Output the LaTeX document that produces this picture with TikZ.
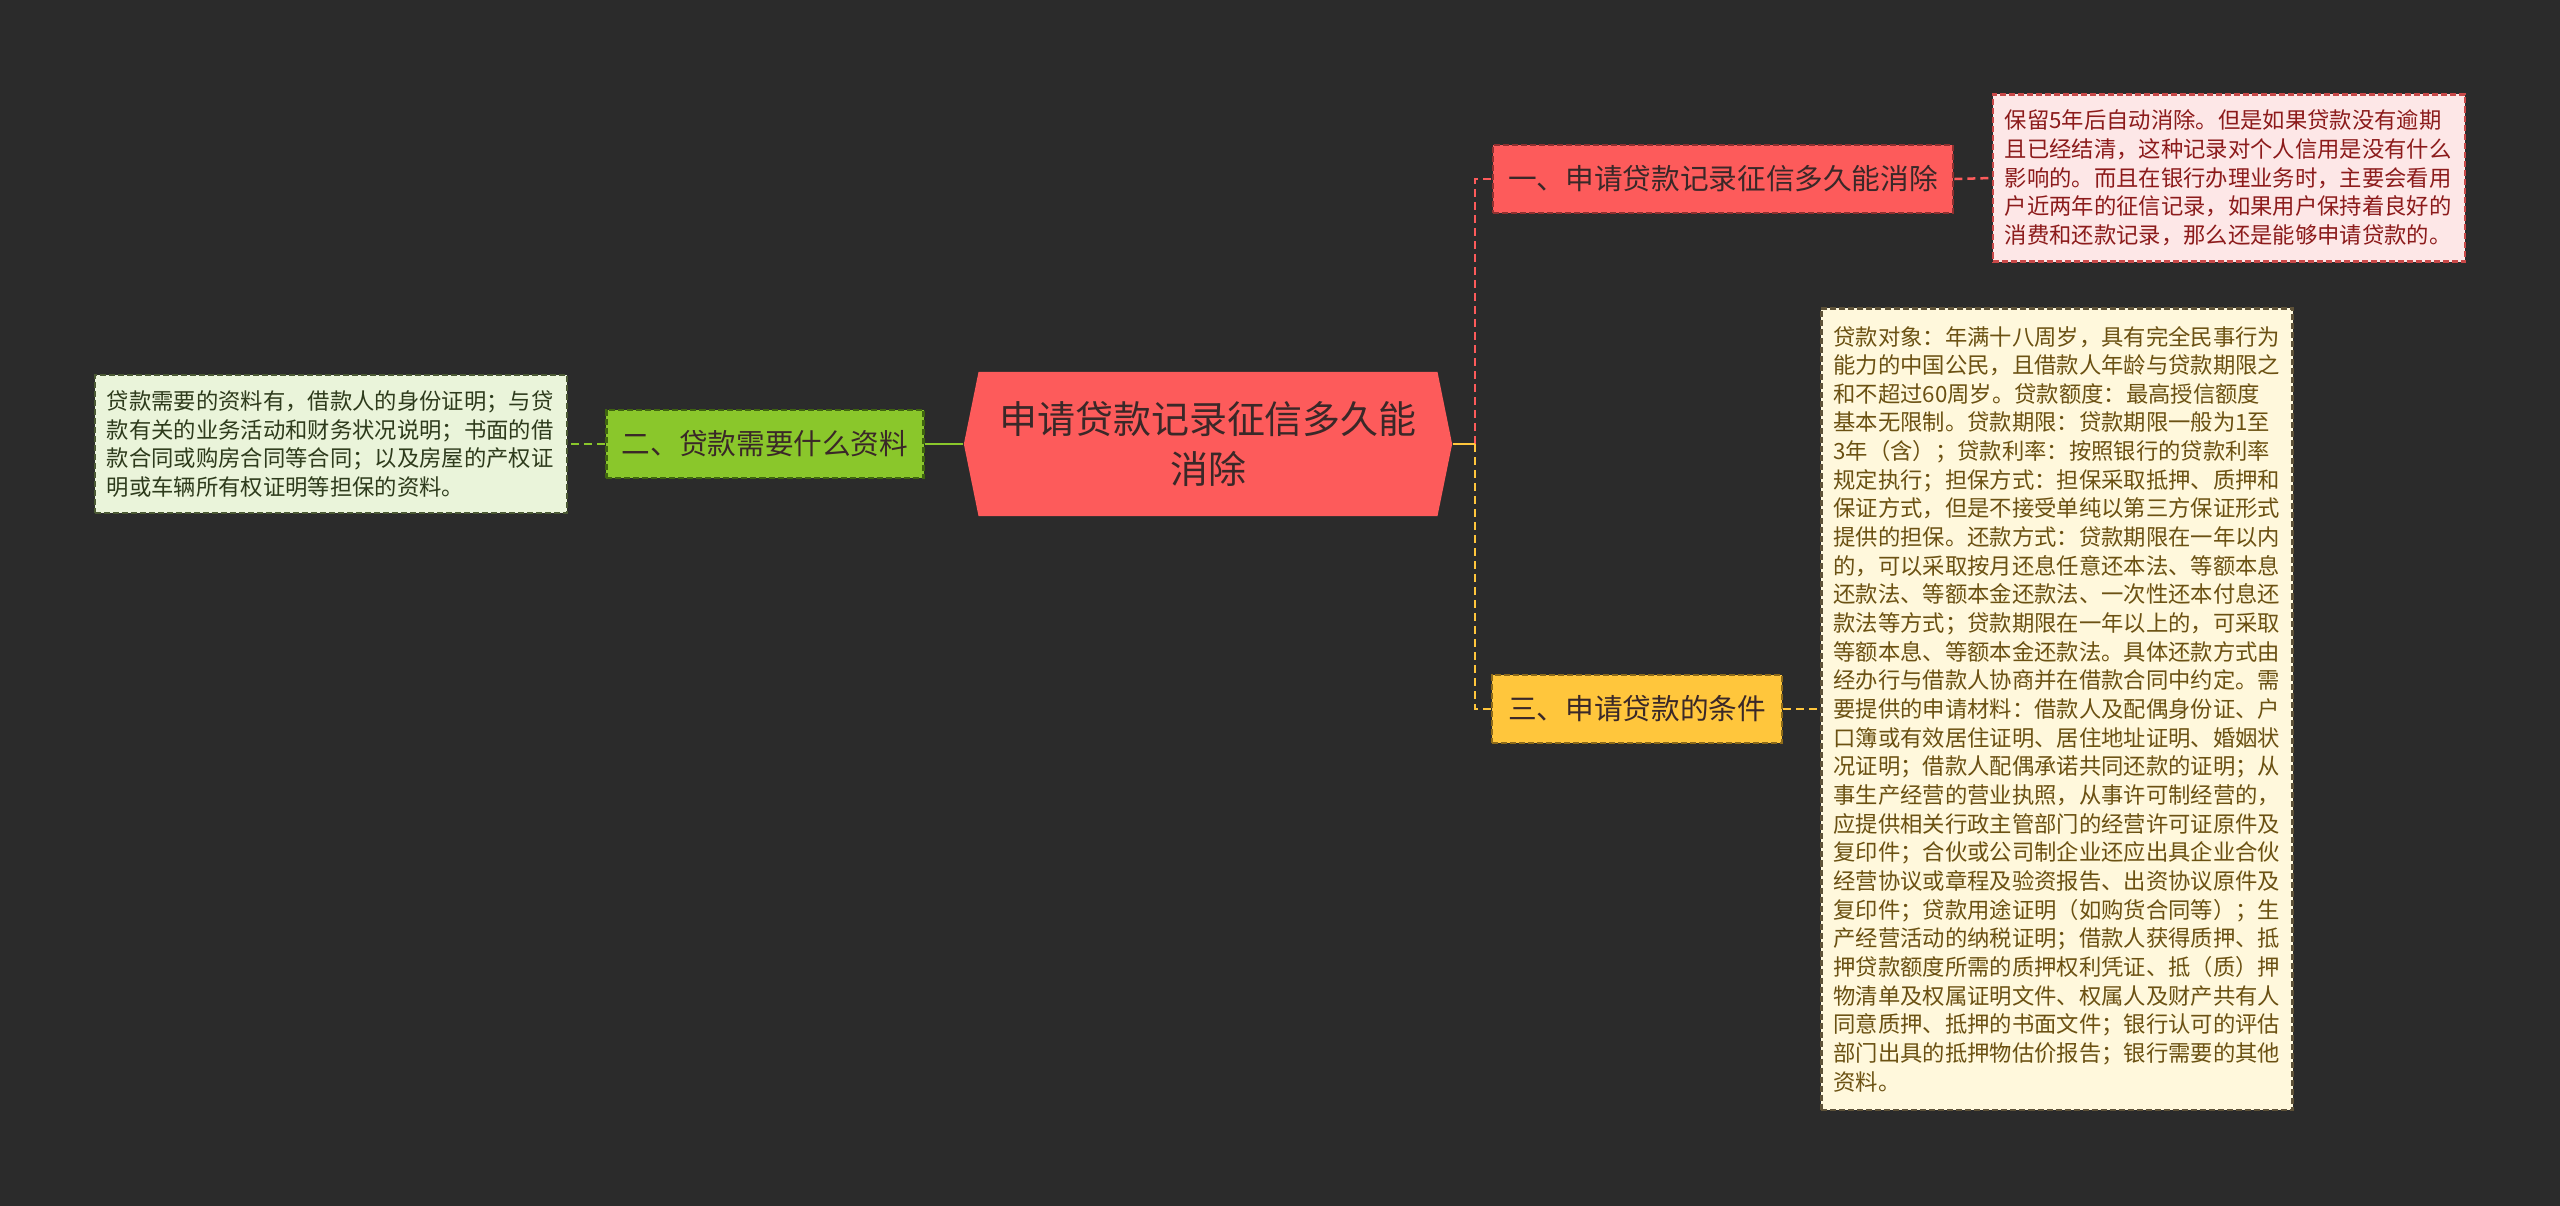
\documentclass[tikz,border=0pt]{standalone}
\usepackage{fontspec}
\setmainfont{Noto Sans CJK SC}
\usetikzlibrary{shapes.symbols}

\definecolor{bgdark}{HTML}{2B2B2B}
\definecolor{rootred}{HTML}{FD5B5B}
\definecolor{roottext}{HTML}{3A2828}
\definecolor{redborder}{HTML}{8E3030}
\definecolor{greenfill}{HTML}{8AC72B}
\definecolor{greenborder}{HTML}{3F6410}
\definecolor{yellowfill}{HTML}{FFC63C}
\definecolor{yellowborder}{HTML}{8C6A1A}
\definecolor{pinkfill}{HTML}{FDE7E7}
\definecolor{pinktext}{HTML}{8C1B1B}
\definecolor{pinkborder}{HTML}{C84848}
\definecolor{palegreen}{HTML}{EAF4DA}
\definecolor{palegreentext}{HTML}{2E3B1C}
\definecolor{palegreenborder}{HTML}{4A5833}
\definecolor{creamfill}{HTML}{FFF8DC}
\definecolor{creamtext}{HTML}{6B5112}
\definecolor{creamborder}{HTML}{5E5238}

\begin{document}
\begin{tikzpicture}[x=0.01cm, y=-0.01cm,
    topic/.style={signal, signal to=west and east, signal pointer angle=157,
        fill=rootred, text=roottext, minimum width=4.88cm, minimum height=1.44cm,
        inner sep=0pt, align=center, font=\fontsize{10.8pt}{14.2pt}\selectfont},
    branch/.style={draw, dash pattern=on 0.06cm off 0.03cm, line width=0.025cm,
        minimum height=0.68cm, inner sep=0pt, text=roottext,
        font=\fontsize{8.15pt}{10pt}\selectfont},
    note/.style={draw, dash pattern=on 0.06cm off 0.03cm, line width=0.025cm,
        inner xsep=0.12cm, inner ysep=0pt, align=left,
        font=\fontsize{6.35pt}{8.15pt}\selectfont},
    link/.style={line width=0.025cm, dash pattern=on 0.08cm off 0.05cm}]
    \useasboundingbox (0,0) rectangle (2560,1205);
    \fill[bgdark] (-10,-10) rectangle (2570,1215);

    % centre
    \node[topic] (root) at (1208,444) {申请贷款记录征信多久能\\消除};

    % branches
    \node[branch, fill=rootred, draw=redborder, minimum width=4.60cm] (n1) at (1723,179) {一、申请贷款记录征信多久能消除};
    \node[branch, fill=greenfill, draw=greenborder, minimum width=3.17cm] (n2) at (765,444) {二、贷款需要什么资料};
    \node[branch, fill=yellowfill, draw=yellowborder, minimum width=2.90cm] (n3) at (1637,709) {三、申请贷款的条件};

    % notes
    \node[note, fill=pinkfill, draw=pinkborder, text=pinktext, text width=4.48cm, minimum height=1.67cm] (d1) at (2229,178) {保留5年后自动消除。但是如果贷款没有逾期\\且已经结清，这种记录对个人信用是没有什么\\影响的。而且在银行办理业务时，主要会看用\\户近两年的征信记录，如果用户保持着良好的\\消费和还款记录，那么还是能够申请贷款的。};
    \node[note, fill=palegreen, draw=palegreenborder, text=palegreentext, text width=4.48cm, minimum height=1.38cm] (d2) at (331,444) {贷款需要的资料有，借款人的身份证明；与贷\\款有关的业务活动和财务状况说明；书面的借\\款合同或购房合同等合同；以及房屋的产权证\\明或车辆所有权证明等担保的资料。};
    \node[note, fill=creamfill, draw=creamborder, text=creamtext, text width=4.47cm, minimum height=8.01cm] (d3) at (2057,709) {贷款对象：年满十八周岁，具有完全民事行为\\能力的中国公民，且借款人年龄与贷款期限之\\和不超过60周岁。贷款额度：最高授信额度\\基本无限制。贷款期限：贷款期限一般为1至\\3年（含）；贷款利率：按照银行的贷款利率\\规定执行；担保方式：担保采取抵押、质押和\\保证方式，但是不接受单纯以第三方保证形式\\提供的担保。还款方式：贷款期限在一年以内\\的，可以采取按月还息任意还本法、等额本息\\还款法、等额本金还款法、一次性还本付息还\\款法等方式；贷款期限在一年以上的，可采取\\等额本息、等额本金还款法。具体还款方式由\\经办行与借款人协商并在借款合同中约定。需\\要提供的申请材料：借款人及配偶身份证、户\\口簿或有效居住证明、居住地址证明、婚姻状\\况证明；借款人配偶承诺共同还款的证明；从\\事生产经营的营业执照，从事许可制经营的，\\应提供相关行政主管部门的经营许可证原件及\\复印件；合伙或公司制企业还应出具企业合伙\\经营协议或章程及验资报告、出资协议原件及\\复印件；贷款用途证明（如购货合同等）；生\\产经营活动的纳税证明；借款人获得质押、抵\\押贷款额度所需的质押权利凭证、抵（质）押\\物清单及权属证明文件、权属人及财产共有人\\同意质押、抵押的书面文件；银行认可的评估\\部门出具的抵押物估价报告；银行需要的其他\\资料。};

    % connectors
    \coordinate (fork) at (1475,444);
    \draw[link, draw=rootred] (fork) |- (n1.west);
    \draw[link, draw=yellowfill] (fork) |- (n3.west);
    \draw[line width=0.025cm, draw=yellowfill] (root.east) -- (fork);
    \draw[line width=0.025cm, draw=greenfill] (root.west) -- (n2.east);
    \draw[link, draw=greenfill] (n2.west) -- (d2.east);
    \draw[link, draw=rootred] (n1.east) -- (d1.west);
    \draw[link, draw=yellowfill] (n3.east) -- (d3.west);
\end{tikzpicture}
\end{document}
